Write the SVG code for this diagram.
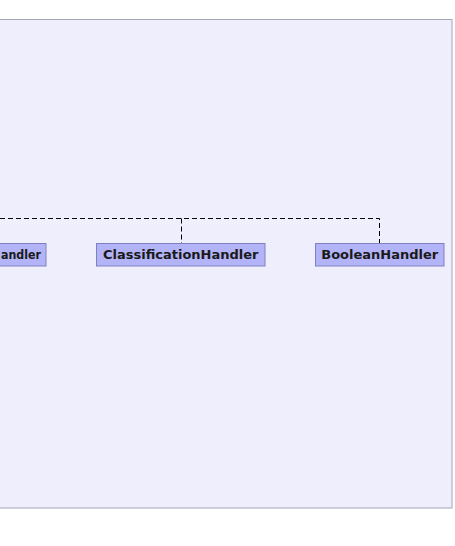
<svg xmlns="http://www.w3.org/2000/svg" width="455" height="546" viewBox="0 0 455 546">
<style>
.bg{fill:#eeeefd;stroke:#a4a4b4;stroke-width:1}
.node rect{fill:#b3b3f7;stroke:#8080c0;stroke-width:1}
.node text{font-family:"DejaVu Sans",sans-serif;font-weight:bold;font-size:13px;fill:#1a1a1a;text-anchor:middle}
.edge{fill:none;stroke:#000;stroke-width:1;stroke-dasharray:5,3}
</style>
<rect width="455" height="546" fill="#ffffff"/>
<rect class="bg" x="-10.5" y="19.5" width="462.5" height="488.5"/>
<g id="connectors">
<path class="edge" d="M0,218.5 H379.5 V243"/>
<path class="edge" d="M181.5,218.5 V243"/>
</g>
<g id="node-left" class="node">
<rect x="-60.5" y="243.5" width="106.5" height="22.5"/>
<text x="1" y="259" style="text-anchor:start" textLength="40" lengthAdjust="spacingAndGlyphs">andler</text>
</g>
<g id="node-classification" class="node">
<rect x="96.5" y="243.5" width="168.5" height="22.5"/>
<text x="180.75" y="259">ClassificationHandler</text>
</g>
<g id="node-boolean" class="node">
<rect x="315.5" y="243.5" width="128.5" height="22.5"/>
<text x="379.75" y="259">BooleanHandler</text>
</g>
</svg>
